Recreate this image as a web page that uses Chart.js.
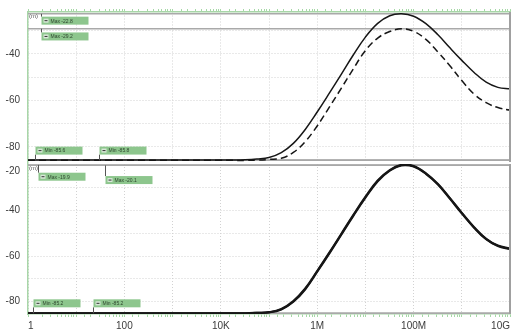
<!DOCTYPE html>
<html>
<head>
<meta charset="utf-8">
<script src="https://cdn.jsdelivr.net/npm/chart.js@4"></script>
<style>
html, body { margin: 0; padding: 0; background: #fff; overflow: hidden; }
#wrap { position: relative; width: 512px; height: 332px; }
#topChart { position: absolute; left: 0; top: 0; }
#botChart { position: absolute; left: 0; top: 150px; }
</style>
</head>
<body>
<div id="wrap">
  <canvas id="topChart" width="512" height="166"></canvas>
  <canvas id="botChart" width="512" height="182"></canvas>
</div>
<script>
// Frequency points (Hz), shared by every trace
var freqs = [1, 10, 100, 1e3, 1e4, 1.8e4, 3.2e4, 5.6e4, 1e5, 1.8e5, 3.2e5, 5.6e5,
    1e6, 1.8e6, 3.2e6, 5.6e6, 1e7, 1.8e7, 3.2e7, 5.6e7, 1e8, 1.8e8, 3.2e8, 5.6e8,
    1e9, 1.8e9, 3.2e9, 5.6e9, 1e10];

// Top panel traces (dB)
var topSolid = [-85.6, -85.6, -85.6, -85.6, -85.6, -85.6, -85.5, -85.2, -84.6, -82.5, -78.5, -72.6,
    -65.0, -56.8, -48.6, -40.5, -32.8, -26.9, -23.6, -22.8, -23.8, -27.0, -31.8, -37.3,
    -42.8, -48.0, -52.2, -54.4, -55.0];
var topDashed = [-85.8, -85.8, -85.8, -85.8, -85.8, -85.8, -85.8, -85.7, -85.4, -84.9, -82.4, -77.8,
    -71.0, -62.8, -54.6, -46.5, -38.6, -33.2, -30.4, -29.2, -30.3, -33.8, -39.2, -45.0,
    -51.5, -57.3, -61.0, -63.1, -64.2];

// Bottom panel traces (dB), nearly on top of each other
var botA = [-85.2, -85.2, -85.2, -85.2, -85.2, -85.2, -85.2, -85.0, -84.7, -83.3, -79.8, -74.4,
    -66.6, -58.4, -50.1, -42.0, -34.0, -26.8, -22.2, -19.9, -20.4, -23.6, -28.3, -34.4,
    -41.0, -47.3, -52.4, -55.4, -56.7];
var botB = [-85.2, -85.2, -85.2, -85.2, -85.2, -85.2, -85.2, -85.0, -84.8, -83.5, -80.1, -74.7,
    -66.9, -58.7, -50.4, -42.3, -34.3, -27.1, -22.4, -20.1, -20.6, -23.8, -28.5, -34.6,
    -41.2, -47.5, -52.6, -55.6, -56.9];

// X tick labels
var xTickLabels = { 1: '1', 100: '100', 10000: '10K', 1000000: '1M', 100000000: '100M', 10000000000: '10G' };

// Cursor markers
var topMarkerText = ['Max -22.8', 'Max -29.2', 'Min -85.6', 'Min -85.8'];
var topMarkerFreq = [1.9, 1.9, 1.43, 30];
var topMarkerValue = [-22.8, -29.2, -85.6, -85.8];
var botMarkerText = ['Max -19.9', 'Max -20.1', 'Min -85.2', 'Min -85.2'];
var botMarkerFreq = [1.65, 40, 1.3, 22];
var botMarkerValue = [-19.9, -20.1, -85.2, -85.2];

// box offsets from the marker level (layout only)
var topBoxDy = [2.8, 3.7, -13.3, -13.8];
var botBoxDy = [7.8, 10.7, -14, -14];

Chart.defaults.font.family = 'Liberation Sans';

var isDecade = function (v) {
    var l = Math.log10(v);
    return Math.abs(l - Math.round(l)) < 1e-9;
};

var toPoints = function (ys) {
    return freqs.map(function (f, i) { return { x: f, y: ys[i] }; });
};

var levelLine = function (v) {
    return {
        data: [{ x: 1, y: v }, { x: 1e10, y: v }],
        borderColor: '#a9a9a9', borderWidth: 1.5, pointRadius: 0, order: 2
    };
};

var trace = function (ys, width, dash) {
    return {
        data: toPoints(ys),
        borderColor: '#161616', borderWidth: width, borderDash: dash || [],
        pointRadius: 0, tension: 0.4, order: 1
    };
};

// green boxes with leader lines, plus right frame and unit text
var makeMarkerPlugin = function (texts, fs, vals, dys) {
    return {
        id: 'markers',
        afterDatasetsDraw: function (chart) {
            var ctx = chart.ctx, xs = chart.scales.x, ys = chart.scales.y, a = chart.chartArea;
            ctx.save();
            // right frame
            ctx.strokeStyle = '#a0a0a0';
            ctx.lineWidth = 2;
            ctx.beginPath();
            ctx.moveTo(a.right, a.top);
            ctx.lineTo(a.right, a.bottom);
            ctx.stroke();
            // unit text
            ctx.fillStyle = '#555';
            ctx.font = '6px "Liberation Sans"';
            ctx.textBaseline = 'top';
            ctx.fillText('(m)', a.left + 1, a.top + 1);

            texts.forEach(function (t, i) {
                var px = Math.round(xs.getPixelForValue(fs[i])) + 0.5;
                var py = ys.getPixelForValue(vals[i]);
                var w = 47, h = 8;
                var top = py + dys[i];
                ctx.strokeStyle = '#555';
                ctx.lineWidth = 1;
                ctx.beginPath();
                if (dys[i] > 0) {
                    ctx.moveTo(px, py);
                    ctx.lineTo(px, top);
                } else {
                    ctx.moveTo(px, top + h);
                    ctx.lineTo(px, py);
                }
                ctx.stroke();
                ctx.fillStyle = 'rgb(141,198,141)';
                ctx.fillRect(px, top, w, h);
                ctx.fillStyle = '#d8e8d8';
                ctx.fillRect(px + 2, top + 2, 5, 4);
                ctx.fillStyle = '#333';
                ctx.fillRect(px + 3, top + 3.5, 3, 1);
                ctx.fillStyle = '#2d452d';
                ctx.font = '5px "Liberation Sans"';
                ctx.textBaseline = 'middle';
                ctx.fillText(t, px + 9, top + h / 2 + 0.5);
            });
            ctx.restore();
        }
    };
};

var gridColor = function (c) {
    return c.tick && isDecade(c.tick.value) ? '#d2d2d2' : 'rgba(0,0,0,0)';
};
var yGridColor = function (c) {
    return c.tick && c.tick.value % 10 === 0 ? '#d2d2d2' : 'rgba(0,0,0,0)';
};

var yScale = function (min, max) {
    return {
        min: min, max: max,
        afterFit: function (s) { s.width = 28; s.paddingTop = 0; s.paddingBottom = 0; },
        ticks: {
            stepSize: 10, autoSkip: false, includeBounds: false, padding: 8,
            color: '#3c3c3c', font: { size: 10 },
            callback: function (v) {
                if (v % 20 !== 0) return '';
                // the top label sits a little below its line, as in the original
                return v > max - 1 ? ['', String(v)] : String(v);
            }
        },
        grid: { color: yGridColor, drawTicks: false },
        border: { color: '#a8d6a8', width: 1.5, dash: [1, 2] }
    };
};

// Top panel
new Chart(document.getElementById('topChart'), {
    type: 'line',
    data: {
        datasets: topMarkerValue.map(levelLine).concat([
            trace(topSolid, 1.5),
            trace(topDashed, 1.5, [7, 4])
        ])
    },
    options: {
        responsive: false,
        animation: false,
        layout: { padding: { top: 9, bottom: 4, left: 0, right: 2 } },
        plugins: { legend: { display: false }, tooltip: { enabled: false } },
        scales: {
            x: {
                type: 'logarithmic', position: 'top', min: 1, max: 1e10,
                afterFit: function (s) { s.height = 3; s.paddingLeft = 0; s.paddingRight = 0; },
                ticks: { display: false, autoSkip: false },
                grid: { color: gridColor, tickColor: '#a6d8a6', tickLength: 3 },
                border: { color: '#a8d6a8', width: 1.5, dash: [1, 2] }
            },
            y: yScale(-86.5, -22)
        }
    },
    plugins: [makeMarkerPlugin(topMarkerText, topMarkerFreq, topMarkerValue, topBoxDy)]
});

// Bottom panel
new Chart(document.getElementById('botChart'), {
    type: 'line',
    data: {
        datasets: botMarkerValue.map(levelLine).concat([
            trace(botA, 2.2),
            trace(botB, 2.2)
        ])
    },
    options: {
        responsive: false,
        animation: false,
        layout: { padding: { top: 14, bottom: 0, left: 0, right: 2 } },
        plugins: { legend: { display: false }, tooltip: { enabled: false } },
        scales: {
            x: {
                type: 'logarithmic', position: 'bottom', min: 1, max: 1e10,
                afterFit: function (s) { s.height = 18; s.paddingLeft = 0; s.paddingRight = 0; },
                ticks: {
                    autoSkip: false, maxRotation: 0, align: 'inner', padding: 3,
                    color: '#3c3c3c', font: { size: 10 },
                    callback: function (v) { return xTickLabels[v] || ''; }
                },
                grid: { color: gridColor, tickColor: '#a6d8a6', tickLength: 3 },
                border: { color: '#a8d6a8', width: 1.5, dash: [1, 2] }
            },
            y: yScale(-85.5, -19.5)
        }
    },
    plugins: [makeMarkerPlugin(botMarkerText, botMarkerFreq, botMarkerValue, botBoxDy)]
});
</script>
</body>
</html>
